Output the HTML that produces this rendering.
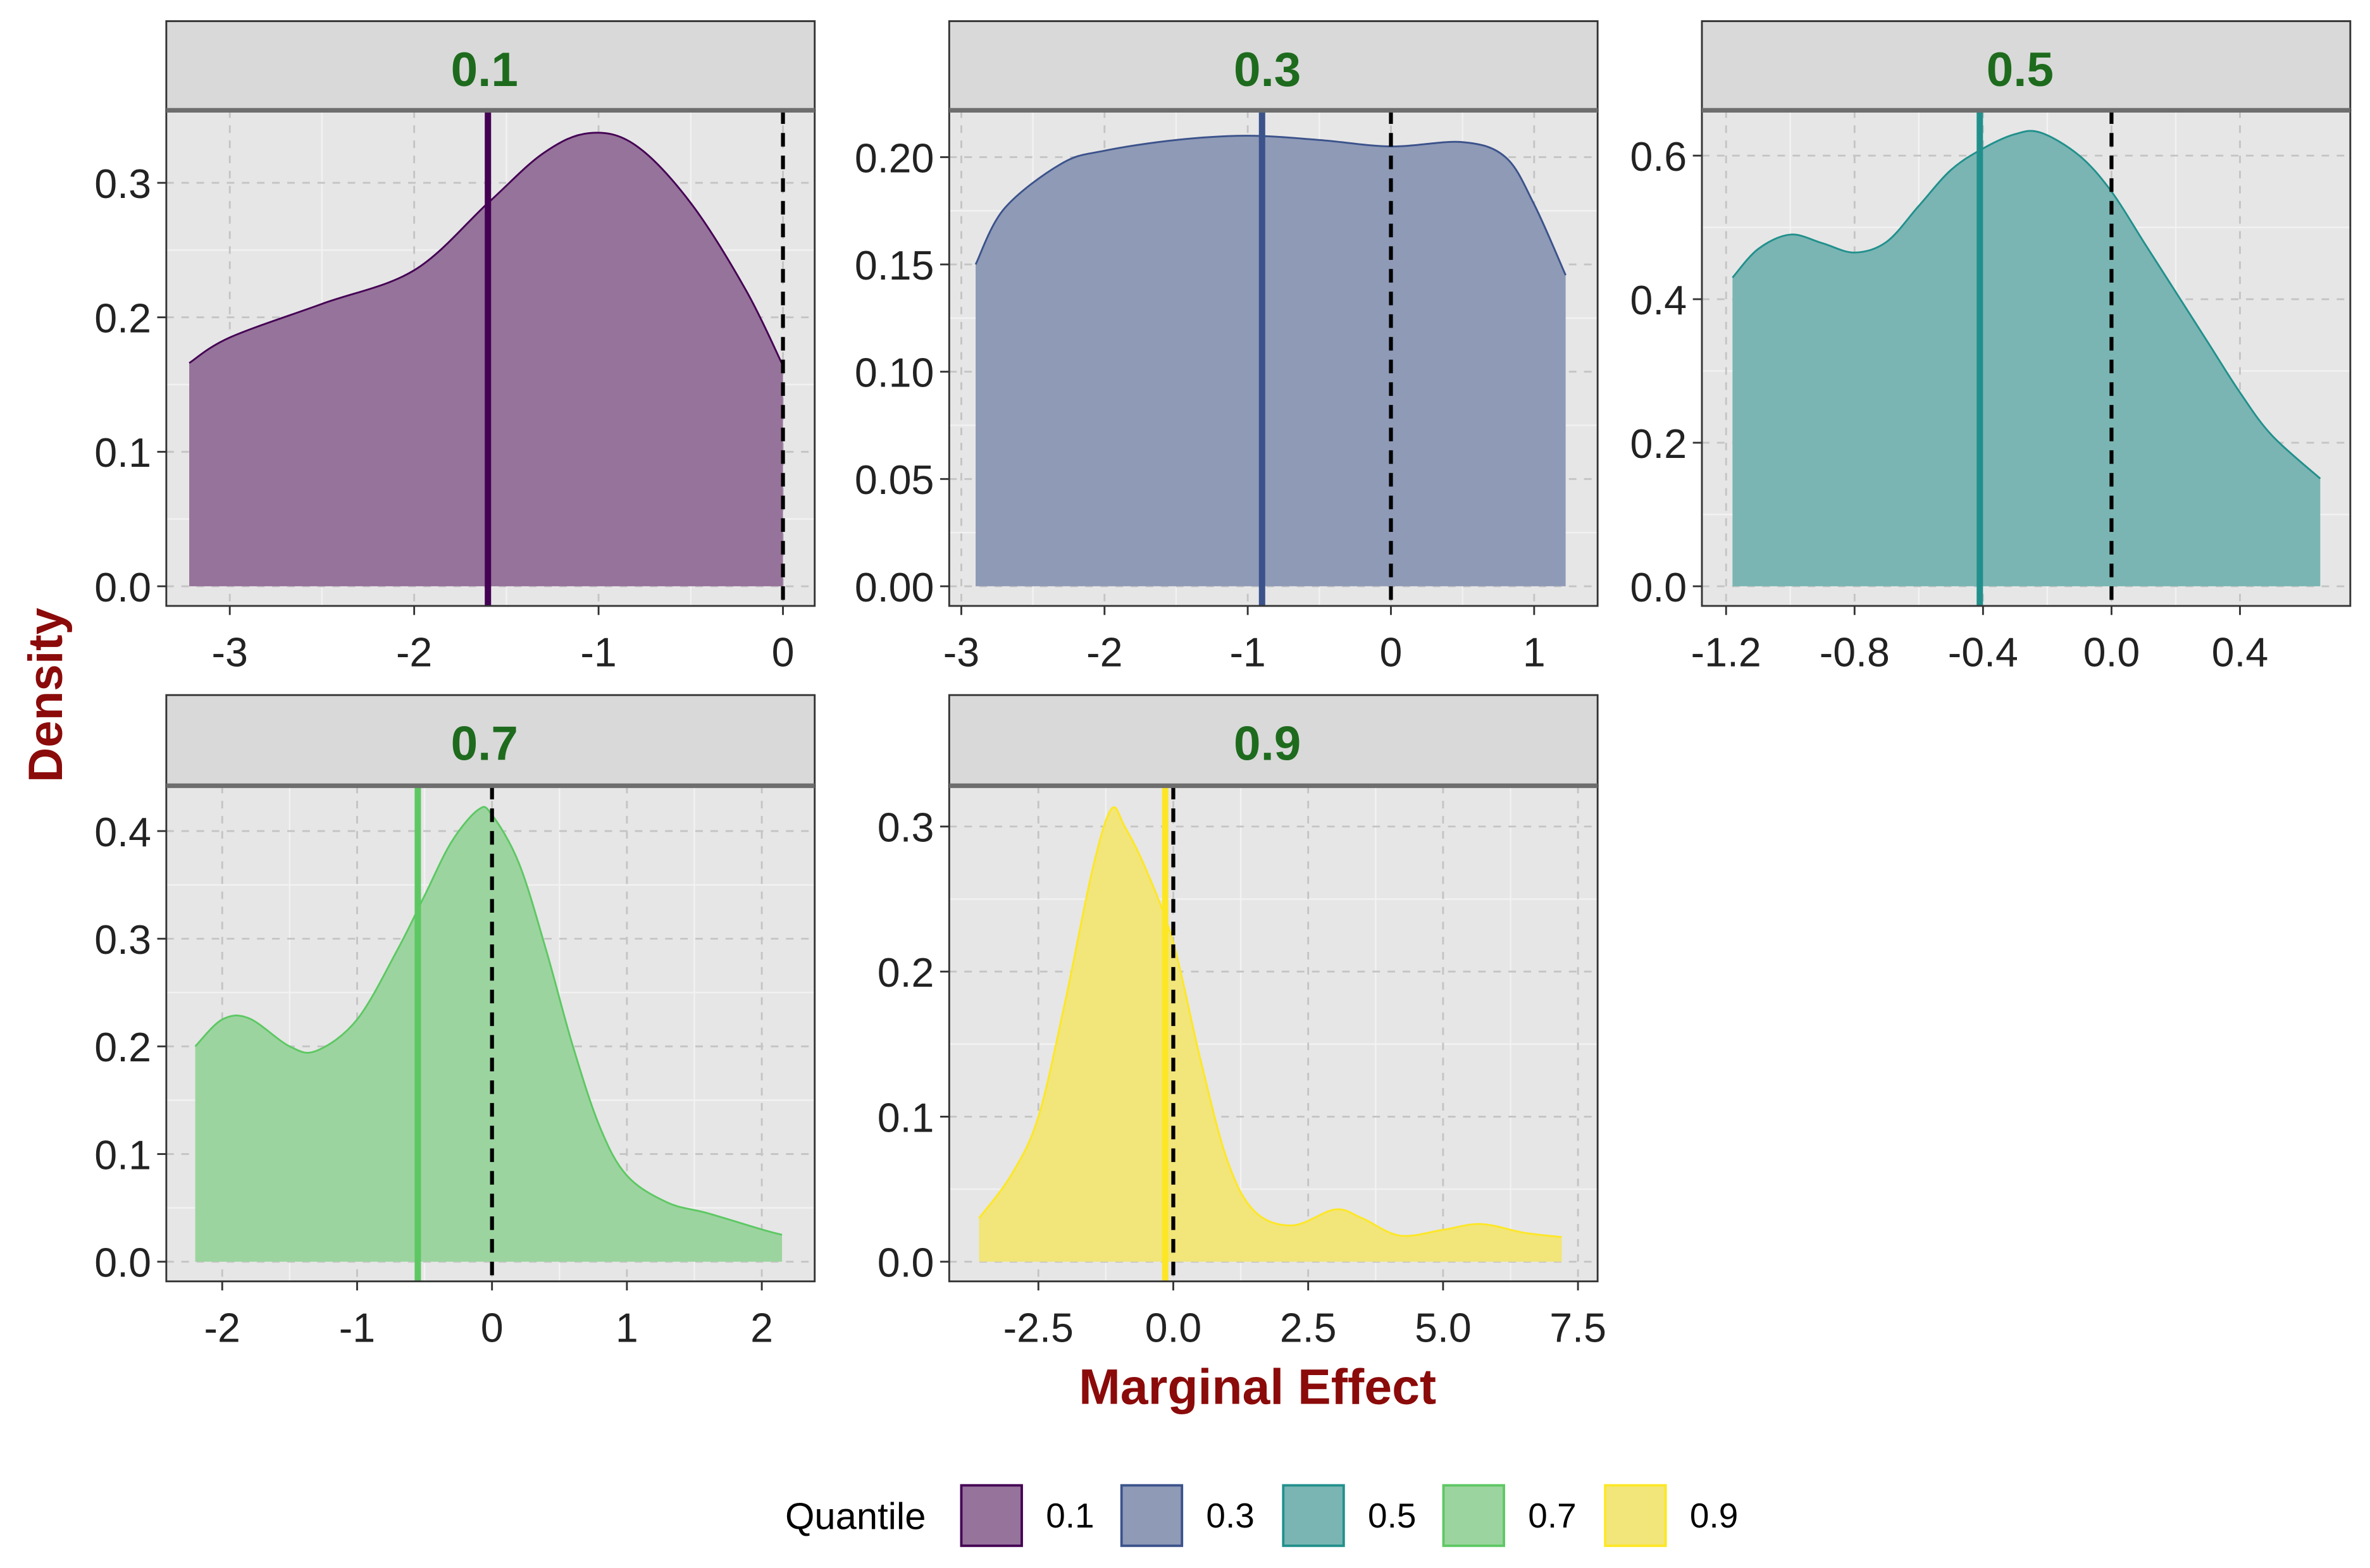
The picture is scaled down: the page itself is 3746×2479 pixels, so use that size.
<!DOCTYPE html>
<html><head><meta charset="utf-8"><style>
html,body{margin:0;padding:0;background:#fff;}
svg{display:block;}
text{font-family:"Liberation Sans",Arial,sans-serif;}
</style></head><body>
<svg id="chart" width="3746" height="2479" viewBox="0 0 1568 1037.7" xmlns="http://www.w3.org/2000/svg"></svg>
<script>
const quantiles = ["0.1","0.3","0.5","0.7","0.9"];
const lineColors = ["#440154","#3b528b","#21908c","#5dc863","#fde725"];
const fillColors = ["#96739a","#8e9ab6","#7ab5b3","#9cd49f","#f2e57a"];
const xs1 = [-3.22,-3,-2.5,-2,-1.6,-1.3,-1.05,-0.8,-0.5,-0.2,0];
const ys1 = [0.166,0.185,0.21,0.235,0.285,0.322,0.337,0.328,0.285,0.22,0.164];
const xs2 = [-2.9,-2.7,-2.3,-2,-1.5,-1,-0.5,0,0.5,0.8,1.0,1.22];
const ys2 = [0.15,0.176,0.197,0.203,0.208,0.21,0.208,0.205,0.207,0.2,0.178,0.145];
const xs3 = [-1.18,-1.1,-1.0,-0.9,-0.8,-0.7,-0.6,-0.5,-0.4,-0.3,-0.22,-0.1,0,0.1,0.2,0.3,0.4,0.5,0.65];
const ys3 = [0.43,0.47,0.49,0.478,0.465,0.48,0.53,0.58,0.61,0.63,0.632,0.6,0.55,0.48,0.41,0.34,0.27,0.21,0.15];
const xs4 = [-2.2,-2,-1.8,-1.5,-1.3,-1.0,-0.7,-0.5,-0.3,-0.1,0,0.2,0.4,0.6,0.8,1.0,1.3,1.6,2.0,2.15];
const ys4 = [0.2,0.225,0.226,0.2,0.196,0.225,0.29,0.34,0.39,0.42,0.415,0.37,0.29,0.2,0.125,0.08,0.055,0.045,0.03,0.025];
const xs5 = [-3.6,-3,-2.5,-2,-1.5,-1.15,-0.9,-0.5,0,0.5,1,1.5,2.2,3,3.5,4.2,5,5.7,6.5,7.2];
const ys5 = [0.03,0.06,0.1,0.18,0.27,0.312,0.3,0.27,0.22,0.14,0.07,0.035,0.025,0.036,0.03,0.018,0.022,0.026,0.02,0.017];
const means = [-1.6,-0.9,-0.41,-0.55,-0.15];
const xTicks = [[-3,-2,-1,0],[-3,-2,-1,0,1],[-1.2,-0.8,-0.4,0.0,0.4],[-2,-1,0,1,2],[-2.5,0.0,2.5,5.0,7.5]];
const xTickLabels = [["-3","-2","-1","0"],["-3","-2","-1","0","1"],["-1.2","-0.8","-0.4","0.0","0.4"],["-2","-1","0","1","2"],["-2.5","0.0","2.5","5.0","7.5"]];
const yTicks = [[0,0.1,0.2,0.3],[0,0.05,0.1,0.15,0.2],[0,0.2,0.4,0.6],[0,0.1,0.2,0.3,0.4],[0,0.1,0.2,0.3]];
const yTickLabels = [["0.0","0.1","0.2","0.3"],["0.00","0.05","0.10","0.15","0.20"],["0.0","0.2","0.4","0.6"],["0.0","0.1","0.2","0.3","0.4"],["0.0","0.1","0.2","0.3"]];
const series = [[xs1,ys1],[xs2,ys2],[xs3,ys3],[xs4,ys4],[xs5,ys5]];

const panels = [
 {x0:110,x1:539,sy:14,top:73,bot:401, xa:-3,xpa:152,xb:0,xpb:518, ya:0,ypa:388,yb:0.3,ypb:121},
 {x0:628,x1:1057,sy:14,top:73,bot:401, xa:-3,xpa:636,xb:1,xpb:1015, ya:0,ypa:388,yb:0.2,ypb:104},
 {x0:1126,x1:1555,sy:14,top:73,bot:401, xa:-1.2,xpa:1142,xb:0.4,xpb:1482, ya:0,ypa:388,yb:0.6,ypb:103},
 {x0:110,x1:539,sy:460,top:520,bot:848, xa:-2,xpa:147,xb:2,xpb:504, ya:0,ypa:835,yb:0.4,ypb:550},
 {x0:628,x1:1057,sy:460,top:520,bot:848, xa:-2.5,xpa:687,xb:7.5,xpb:1044, ya:0,ypa:835,yb:0.3,ypb:547}
];
const NS="http://www.w3.org/2000/svg";
const svg=document.getElementById('chart');
function mk(tag,attrs,parent){const e=document.createElementNS(NS,tag);for(const k in attrs)e.setAttribute(k,attrs[k]);(parent||svg).appendChild(e);return e;}
function smooth(pts){let d="M"+pts[0][0]+","+pts[0][1];for(let i=0;i<pts.length-1;i++){const p0=pts[Math.max(0,i-1)],p1=pts[i],p2=pts[i+1],p3=pts[Math.min(pts.length-1,i+2)];const c1=[p1[0]+(p2[0]-p0[0])/6,p1[1]+(p2[1]-p0[1])/6],c2=[p2[0]-(p3[0]-p1[0])/6,p2[1]-(p3[1]-p1[1])/6];d+=" C"+c1[0]+","+c1[1]+" "+c2[0]+","+c2[1]+" "+p2[0]+","+p2[1];}return d;}

panels.forEach((P,i)=>{
 const g=mk('g',{});
 
 
 const X=v=>P.xpa+(v-P.xa)*(P.xpb-P.xpa)/(P.xb-P.xa);
 const Y=v=>P.ypa+(v-P.ya)*(P.ypb-P.ypa)/(P.yb-P.ya);
 const bg=mk('rect',{x:P.x0,y:P.top,width:P.x1-P.x0,height:P.bot-P.top,fill:'#e6e6e6'},g);
 
 
 const xt=xTicks[i],yt=yTicks[i];
 for(let k=0;k<xt.length-1;k++){const m=X((xt[k]+xt[k+1])/2);mk('line',{x1:m,x2:m,y1:P.top,y2:P.bot,stroke:'#f2f2f2','stroke-width':1},g);}
 for(let k=0;k<yt.length-1;k++){const m=Y((yt[k]+yt[k+1])/2);mk('line',{x1:P.x0,x2:P.x1,y1:m,y2:m,stroke:'#f2f2f2','stroke-width':1},g);}
 xt.forEach(v=>mk('line',{x1:X(v),x2:X(v),y1:P.top,y2:P.bot,stroke:'#c4c4c4','stroke-width':1.2,'stroke-dasharray':'5,5'},g));
 yt.forEach(v=>mk('line',{x1:P.x0,x2:P.x1,y1:Y(v),y2:Y(v),stroke:'#c4c4c4','stroke-width':1.2,'stroke-dasharray':'5,5'},g));
 const [xs,ys]=series[i];
 const pts=xs.map((x,k)=>[X(x),Y(ys[k])]);
 const d=smooth(pts);
 const area=mk('path',{d:d+" L"+X(xs[xs.length-1])+","+Y(0)+" L"+X(xs[0])+","+Y(0)+" Z",fill:fillColors[i],stroke:'none'},g);
 
 
 const ln=mk('path',{d:d,fill:'none',stroke:lineColors[i],'stroke-width':1.2},g);
 
 
 const mv=mk('line',{x1:X(means[i]),x2:X(means[i]),y1:P.top,y2:P.bot,stroke:lineColors[i],'stroke-width':4.2},g);
 
 
 const zv=mk('line',{x1:X(0),x2:X(0),y1:P.top,y2:P.bot,stroke:'#000','stroke-width':2.6,'stroke-dasharray':'9,6'},g);
 
 
 mk('rect',{x:P.x0,y:P.top,width:P.x1-P.x0,height:P.bot-P.top,fill:'none',stroke:'#333','stroke-width':1.2},g);
 const st=mk('rect',{x:P.x0,y:P.sy,width:P.x1-P.x0,height:P.top-P.sy,fill:'#d9d9d9',stroke:'#333','stroke-width':1.2},g);
 
 
 mk('line',{x1:P.x0,x2:P.x1,y1:P.top,y2:P.top,stroke:'#6e6e6e','stroke-width':3},g);
 const sl=mk('text',{x:(P.x0+P.x1)/2-4,y:P.sy+43,'text-anchor':'middle','font-size':32,'font-weight':'bold',fill:'#1e6b1e'},g);
 sl.textContent=quantiles[i];
 
 
 xt.forEach((v,k)=>{mk('line',{x1:X(v),x2:X(v),y1:P.bot,y2:P.bot+6,stroke:'#333','stroke-width':1.2},g);
  const t=mk('text',{x:X(v),y:P.bot+40,'text-anchor':'middle','font-size':27,fill:'#222'},g);t.textContent=xTickLabels[i][k];
  
  });
 yt.forEach((v,k)=>{mk('line',{x1:P.x0-6,x2:P.x0,y1:Y(v),y2:Y(v),stroke:'#333','stroke-width':1.2},g);
  const t=mk('text',{x:P.x0-10,y:Y(v)+10,'text-anchor':'end','font-size':27,fill:'#222'},g);t.textContent=yTickLabels[i][k];
  
  });
});
const yt=mk('text',{x:0,y:0,transform:'translate(41,460) rotate(-90)','text-anchor':'middle','font-size':32,'font-weight':'bold',fill:'#8b0a0a'});
yt.textContent='Density';


const xtt=mk('text',{x:832,y:929,'text-anchor':'middle','font-size':33,'font-weight':'bold',fill:'#8b0a0a'});
xtt.textContent='Marginal Effect';


const lg=mk('g',{});


const lt=mk('text',{x:566,y:1012,'text-anchor':'middle','font-size':25,fill:'#000'},lg);
lt.textContent='Quantile';


const keyX=[636,742,849,955,1062];
quantiles.forEach((q,i)=>{
 const r=mk('rect',{x:keyX[i],y:983,width:40,height:40,fill:fillColors[i],stroke:lineColors[i],'stroke-width':1.6},lg);
 
 
 const t=mk('text',{x:keyX[i]+56,y:1011,'font-size':23,fill:'#000'},lg);
 t.textContent=q;
 
 
});
</script>
</body></html>
